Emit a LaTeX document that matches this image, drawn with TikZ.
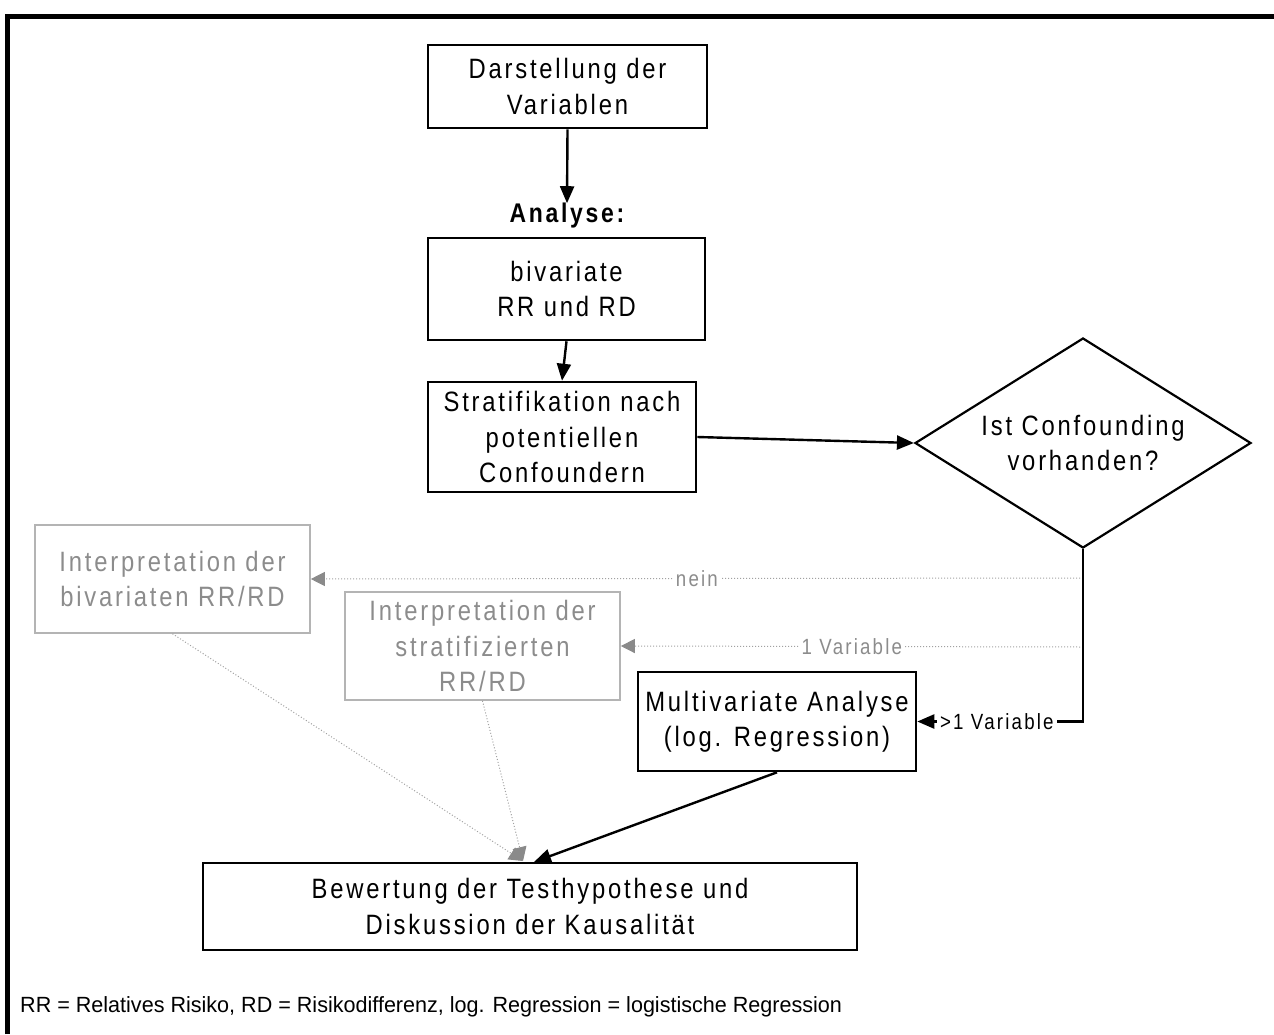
\documentclass[tikz,border=0pt]{standalone}
\usepackage{fontspec}
\setmainfont{Liberation Sans}[FakeStretch=0.85,LetterSpace=10]
\newfontfamily\footfont{Liberation Sans}[FakeStretch=0.98]
\usetikzlibrary{arrows.meta,shapes.geometric}
\definecolor{lgray}{HTML}{B4B4B4}
\definecolor{tgray}{HTML}{8C8C8C}
\definecolor{dgray}{HTML}{8A8A8A}
\tikzset{
  box/.style={draw=black,line width=2.6pt,align=center,inner sep=0pt,
    font=\fontsize{28}{35.5}\selectfont},
  gbox/.style={draw=lgray,line width=1.6pt,align=center,inner sep=0pt,text=tgray,
    font=\fontsize{28}{35.5}\selectfont},
  arr/.style={line width=2.4pt,-{Triangle[length=17pt,width=14pt]}},
  garr/.style={draw=dgray!80,line width=1pt,dotted,-{Triangle[length=14pt,width=14pt,fill=dgray,color=dgray]}},
  glab/.style={fill=white,inner sep=3pt,text=tgray,font=\fontsize{22}{26}\selectfont},
  blab/.style={fill=white,inner sep=3pt,text=black,font=\fontsize{22}{26}\selectfont},
}
\begin{document}
\begin{tikzpicture}[x=1pt,y=-1pt]
\useasboundingbox (0,0) rectangle (1274,1034);
% frame
\draw[line width=5pt] (7,1034) -- (7,16.5) -- (1274,16.5);
% nodes
\node[box,minimum width=279pt,minimum height=83pt] (b1) at (567.5,86.5) {Darstellung der\\Variablen};
\node[font=\fontsize{27}{30}\selectfont\bfseries,inner sep=0pt] (an) at (567,216) {Analyse:};
\node[box,minimum width=277pt,minimum height=102pt] (b2) at (566.5,289) {bivariate\\RR und RD};
\node[box,minimum width=268pt,minimum height=110pt] (b3) at (562,437) {Stratifikation nach\\potentiellen\\Confoundern};
\node[box,shape=diamond,aspect=1.6,minimum width=336pt,minimum height=210pt,line width=2.2pt] (dia) at (1083,443) {Ist Confounding\\vorhanden?};
\node[gbox,minimum width=275pt,minimum height=108pt] (i1) at (172.5,579) {Interpretation der\\bivariaten RR/RD};
\node[gbox,minimum width=275pt,minimum height=108pt] (i2) at (482.5,646) {Interpretation der\\stratifizierten\\RR/RD};
\node[box,minimum width=278pt,minimum height=99pt] (mv) at (777,721.5) {Multivariate Analyse\\(log. Regression)};
\node[box,minimum width=654pt,minimum height=87pt] (bw) at (530,906.5) {Bewertung der Testhypothese und\\Diskussion der Kausalität};
\node[anchor=west,inner sep=0pt,font=\footfont\fontsize{22}{25}\selectfont] (foot) at (20,1007) {RR = Relatives Risiko, RD = Risikodifferenz, log. Regression = logistische Regression};
% coordinates
\coordinate (c1) at (1083,578);
\coordinate (c2) at (1083,647);
\coordinate (t1) at (534,862);
\coordinate (t2) at (523,861);
% connectors
\draw[arr] (b1.south) -- (an.north);
\draw[arr] (b2.south) -- (b3.north);
\draw[arr] (b3.east) -- (dia.west);
\draw[garr] (c1) -- node[glab,pos=0.5] {nein} (i1.east);
\draw[garr] (c2) -- node[glab,pos=0.5] {1 Variable} (i2.east);
\draw[arr] (dia.south) |- node[blab,pos=0.76] {>1 Variable} (mv.east);
\draw[garr] (i1.south) -- (t2);
\draw[garr] (i2.south) -- (t2);
\draw[arr] (mv.south) -- (t1);
\end{tikzpicture}
\end{document}
